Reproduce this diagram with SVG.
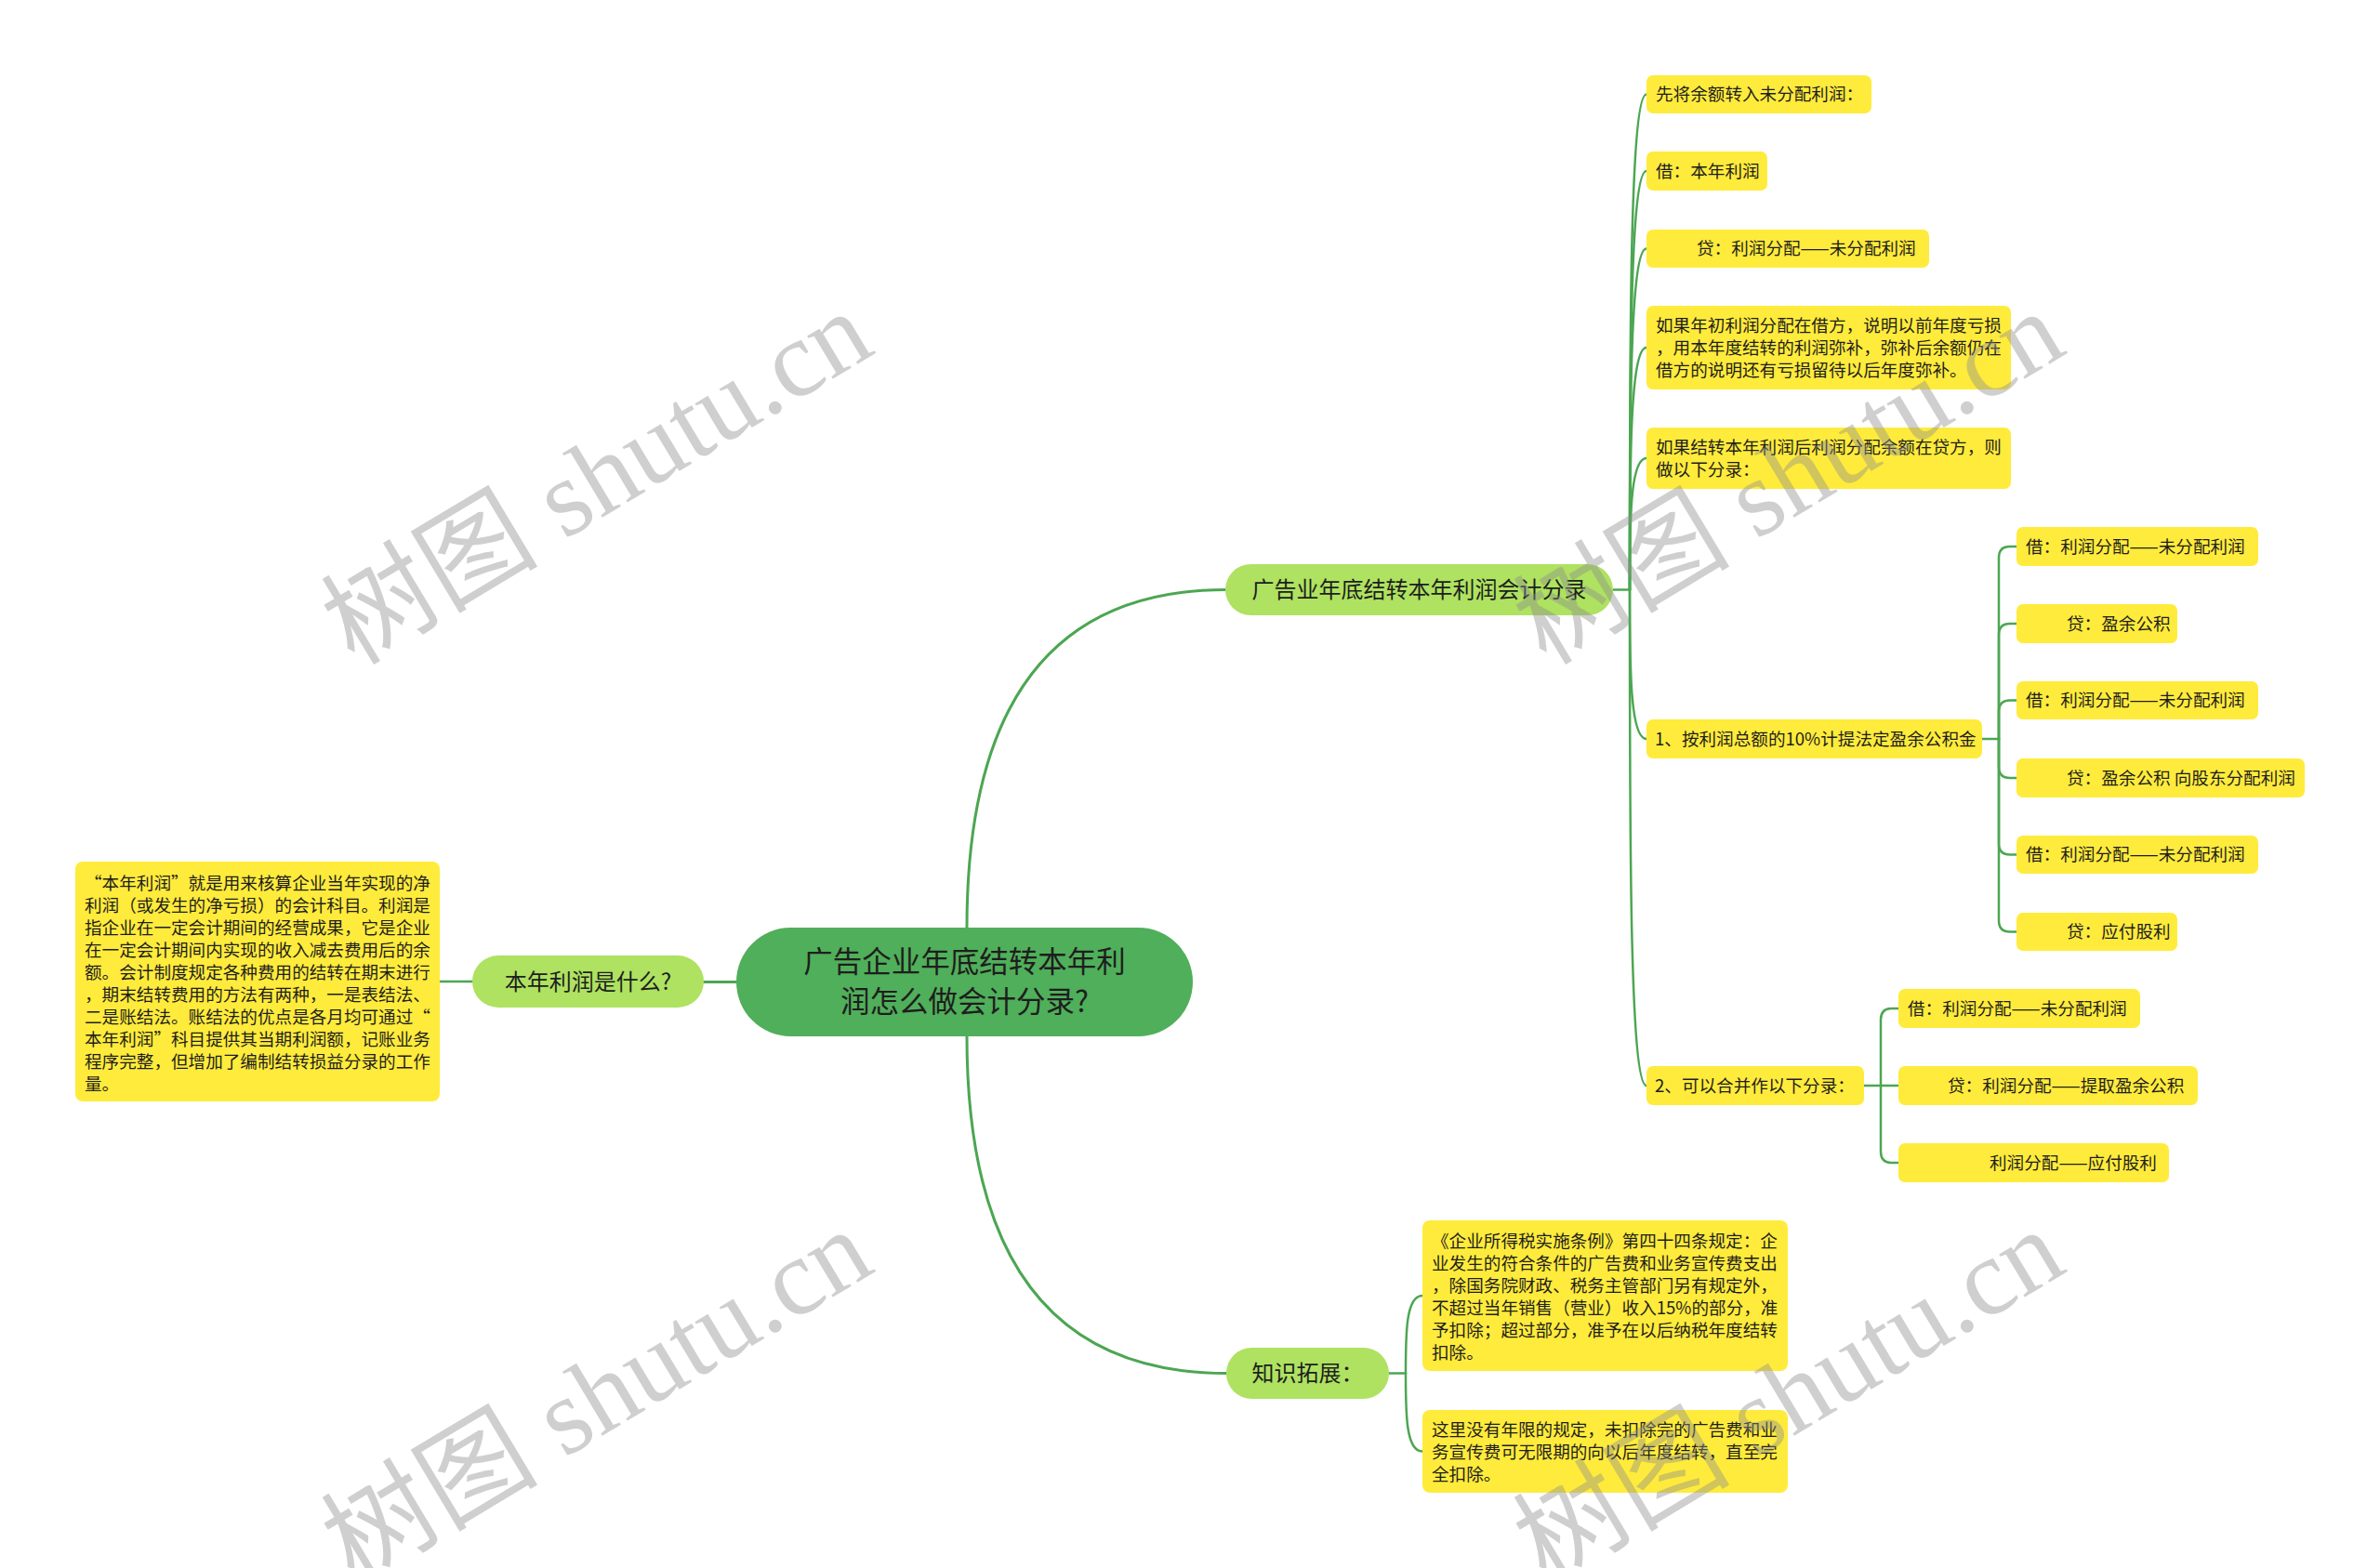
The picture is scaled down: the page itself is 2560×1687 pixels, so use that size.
<svg xmlns="http://www.w3.org/2000/svg" width="2560" height="1687" viewBox="0 0 2560 1687">
<style>
.bg{fill:#ffffff}
.root rect{fill:#50af5a}
.branch rect{fill:#aee260}
.leaf rect{fill:#ffeb3b}
text{font-family:"Noto Sans CJK SC","Noto Sans",sans-serif;fill:#1e1e1e}
.rt{font-size:31.5px;text-anchor:middle}
.bt{font-size:24px;text-anchor:middle}
.lt{font-size:18.6px}
.conn path{fill:none;stroke:#4ca652;stroke-width:2.5;stroke-linecap:round}
.conn path.main{stroke-width:3}
.wm text{font-family:"Liberation Serif","Noto Sans CJK SC",serif;font-size:117px;fill:#8f8f8f;opacity:0.42;text-anchor:middle;dominant-baseline:central}
</style>
<rect class="bg" x="0" y="0" width="2560" height="1687"/>

<g class="conn" id="connectors">
<path class="main" d="M1040,998 Q1040,634.5 1318,634.5"/>
<path class="main" d="M1040,1115 Q1040,1477.5 1319,1477.5"/>
<path class="main" d="M792,1056.5 H757"/>
<path d="M508,1056 H473"/>
<path d="M1735,634.5 H1753"/>
<path d="M1753,634.5 C1753,368 1753,101.5 1771,101.5"/>
<path d="M1753,634.5 C1753,409.25 1753,184 1771,184"/>
<path d="M1753,634.5 C1753,451 1753,267.5 1771,267.5"/>
<path d="M1753,634.5 C1753,504.25 1753,374 1771,374"/>
<path d="M1753,634.5 C1753,563.75 1753,493 1771,493"/>
<path d="M1753,634.5 C1753,714.75 1753,795 1771,795"/>
<path d="M1753,634.5 C1753,901.25 1753,1168 1771,1168"/>
<path d="M2132,795 H2150"/>
<path d="M2150,795 V600 Q2150,588 2162,588 H2169"/>
<path d="M2150,795 V683 Q2150,671 2162,671 H2169"/>
<path d="M2150,795 V765.5 Q2150,753.5 2162,753.5 H2169"/>
<path d="M2150,795 V825 Q2150,837 2162,837 H2169"/>
<path d="M2150,795 V907.5 Q2150,919.5 2162,919.5 H2169"/>
<path d="M2150,795 V990.5 Q2150,1002.5 2162,1002.5 H2169"/>
<path d="M2005,1168 H2042"/>
<path d="M2023,1168 V1097 Q2023,1085 2035,1085 H2042"/>
<path d="M2023,1168 V1239 Q2023,1251 2035,1251 H2042"/>
<path d="M1494,1477.5 H1512"/>
<path d="M1512,1477.5 C1512,1435.75 1512,1394 1530,1394"/>
<path d="M1512,1477.5 C1512,1519.5 1512,1561.5 1530,1561.5"/>
</g>

<g class="root" id="node-root">
<rect x="792" y="998" width="491" height="117" rx="58.5"/>
<text class="rt" x="1037.5" y="1046">广告企业年底结转本年利</text>
<text class="rt" x="1037.5" y="1089">润怎么做会计分录?</text>
</g>

<g class="branch" id="node-b1">
<rect x="1318" y="607" width="417" height="55" rx="27.5"/>
<text class="bt" x="1526.5" y="643">广告业年底结转本年利润会计分录</text>
</g>
<g class="branch" id="node-b2">
<rect x="508" y="1028" width="249" height="56" rx="28"/>
<text class="bt" x="632.5" y="1064.5">本年利润是什么?</text>
</g>
<g class="branch" id="node-b3">
<rect x="1319" y="1450" width="175" height="55" rx="27.5"/>
<text class="bt" x="1406.5" y="1486">知识拓展：</text>
</g>

<g class="leaf" id="node-left">
<rect x="81" y="927" width="392" height="258" rx="8"/>
<text class="lt" x="91" y="956.7">“本年利润”就是用来核算企业当年实现的净</text>
<text class="lt" x="91" y="980.7">利润（或发生的净亏损）的会计科目。利润是</text>
<text class="lt" x="91" y="1004.7">指企业在一定会计期间的经营成果，它是企业</text>
<text class="lt" x="91" y="1028.7">在一定会计期间内实现的收入减去费用后的余</text>
<text class="lt" x="91" y="1052.7">额。会计制度规定各种费用的结转在期末进行</text>
<text class="lt" x="91" y="1076.7">，期末结转费用的方法有两种，一是表结法、</text>
<text class="lt" x="91" y="1100.7">二是账结法。账结法的优点是各月均可通过“</text>
<text class="lt" x="91" y="1124.7">本年利润”科目提供其当期利润额，记账业务</text>
<text class="lt" x="91" y="1148.7">程序完整，但增加了编制结转损益分录的工作</text>
<text class="lt" x="91" y="1172.7">量。</text>
</g>

<g class="leaf" id="node-a">
<rect x="1771" y="81" width="242" height="41" rx="7"/>
<text class="lt" x="1781" y="108.2">先将余额转入未分配利润：</text>
</g>
<g class="leaf" id="node-b">
<rect x="1771" y="163" width="130" height="42" rx="7"/>
<text class="lt" x="1781" y="190.7">借：本年利润</text>
</g>
<g class="leaf" id="node-c">
<rect x="1771" y="247" width="304" height="41" rx="7"/>
<text class="lt" x="1825" y="274.2">贷：利润分配——未分配利润</text>
</g>
<g class="leaf" id="node-d">
<rect x="1771" y="329" width="392" height="90" rx="7"/>
<text class="lt" x="1781" y="356.7">如果年初利润分配在借方，说明以前年度亏损</text>
<text class="lt" x="1781" y="380.7">，用本年度结转的利润弥补，弥补后余额仍在</text>
<text class="lt" x="1781" y="404.7">借方的说明还有亏损留待以后年度弥补。</text>
</g>
<g class="leaf" id="node-e">
<rect x="1771" y="460" width="392" height="66" rx="7"/>
<text class="lt" x="1781" y="487.7">如果结转本年利润后利润分配余额在贷方，则</text>
<text class="lt" x="1781" y="511.7">做以下分录：</text>
</g>
<g class="leaf" id="node-f">
<rect x="1771" y="774" width="361" height="42" rx="7"/>
<text class="lt" x="1780" y="801.7">1、按利润总额的10%计提法定盈余公积金</text>
</g>
<g class="leaf" id="node-g">
<rect x="1771" y="1147" width="234" height="42" rx="7"/>
<text class="lt" x="1780" y="1174.7">2、可以合并作以下分录：</text>
</g>

<g class="leaf" id="node-f1">
<rect x="2169" y="567" width="260" height="42" rx="7"/>
<text class="lt" x="2179" y="594.7">借：利润分配——未分配利润</text>
</g>
<g class="leaf" id="node-f2">
<rect x="2169" y="650" width="173" height="42" rx="7"/>
<text class="lt" x="2223" y="677.7">贷：盈余公积</text>
</g>
<g class="leaf" id="node-f3">
<rect x="2169" y="733" width="260" height="41" rx="7"/>
<text class="lt" x="2179" y="760.2">借：利润分配——未分配利润</text>
</g>
<g class="leaf" id="node-f4">
<rect x="2169" y="816" width="310" height="42" rx="7"/>
<text class="lt" x="2223" y="843.7">贷：盈余公积 向股东分配利润</text>
</g>
<g class="leaf" id="node-f5">
<rect x="2169" y="899" width="260" height="41" rx="7"/>
<text class="lt" x="2179" y="926.2">借：利润分配——未分配利润</text>
</g>
<g class="leaf" id="node-f6">
<rect x="2169" y="982" width="173" height="41" rx="7"/>
<text class="lt" x="2223" y="1009.2">贷：应付股利</text>
</g>

<g class="leaf" id="node-g1">
<rect x="2042" y="1064" width="260" height="42" rx="7"/>
<text class="lt" x="2052" y="1091.7">借：利润分配——未分配利润</text>
</g>
<g class="leaf" id="node-g2">
<rect x="2042" y="1147" width="322" height="42" rx="7"/>
<text class="lt" x="2095" y="1174.7">贷：利润分配——提取盈余公积</text>
</g>
<g class="leaf" id="node-g3">
<rect x="2042" y="1230" width="291" height="42" rx="7"/>
<text class="lt" x="2140" y="1257.7">利润分配——应付股利</text>
</g>

<g class="leaf" id="node-k1">
<rect x="1530" y="1313" width="393" height="162" rx="8"/>
<text class="lt" x="1540" y="1341.7">《企业所得税实施条例》第四十四条规定：企</text>
<text class="lt" x="1540" y="1365.7">业发生的符合条件的广告费和业务宣传费支出</text>
<text class="lt" x="1540" y="1389.7">，除国务院财政、税务主管部门另有规定外，</text>
<text class="lt" x="1540" y="1413.7">不超过当年销售（营业）收入15%的部分，准</text>
<text class="lt" x="1540" y="1437.7">予扣除；超过部分，准予在以后纳税年度结转</text>
<text class="lt" x="1540" y="1461.7">扣除。</text>
</g>
<g class="leaf" id="node-k2">
<rect x="1530" y="1517" width="393" height="89" rx="8"/>
<text class="lt" x="1540" y="1544.7">这里没有年限的规定，未扣除完的广告费和业</text>
<text class="lt" x="1540" y="1568.7">务宣传费可无限期的向以后年度结转，直至完</text>
<text class="lt" x="1540" y="1592.7">全扣除。</text>
</g>

<g class="wm" id="watermarks">
<text x="642" y="514" transform="rotate(-31 642 514)">树图 shutu.cn</text>
<text x="1924" y="514" transform="rotate(-31 1924 514)">树图 shutu.cn</text>
<text x="642" y="1502" transform="rotate(-31 642 1502)">树图 shutu.cn</text>
<text x="1924" y="1502" transform="rotate(-31 1924 1502)">树图 shutu.cn</text>
</g>
</svg>
